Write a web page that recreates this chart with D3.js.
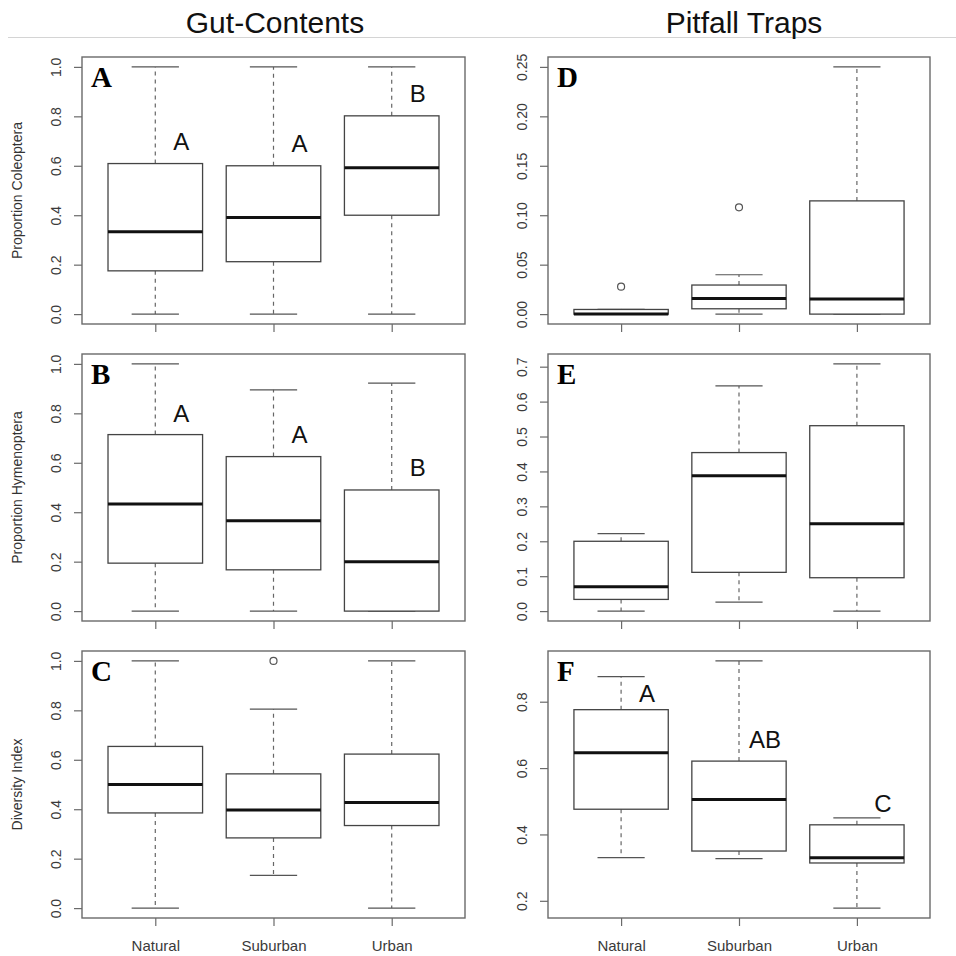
<!DOCTYPE html>
<meta charset='utf-8'>
<style>
  body { margin:0; background:#fff; }
  text { font-family:'Liberation Sans', Arial, sans-serif; }
  .frame { fill:none; stroke:#6a6a6a; stroke-width:1.4px; }
  .axis path { display:none; }
  .axis line { stroke:#6a6a6a; stroke-width:1.2px; }
  .axis text { fill:#3a3a3a; font-size:14px; }
  .box { fill:#fff; stroke:#444; stroke-width:1.3px; }
  .median { stroke:#111; stroke-width:3px; }
  .whisker { stroke:#666; stroke-width:1.2px; stroke-dasharray:4,4; }
  .staple { stroke:#555; stroke-width:1.2px; }
  .outlier { fill:none; stroke:#555; stroke-width:1.2px; }
</style>
<body>
<script src='https://d3js.org/d3.v7.min.js'></script>
<script>
  var width = 956;
  var height = 956;

  var groups = ['Natural','Suburban','Urban'];
  var columnTitles = ['Gut-Contents','Pitfall Traps'];

  // [lower whisker, Q1, median, Q3, upper whisker] per group
  var statsA = [[0,0.175,0.333,0.609,1.0],[0,0.212,0.391,0.600,1.0],[0,0.400,0.592,0.802,1.0]];
  var statsB = [[0,0.194,0.433,0.714,1.0],[0,0.167,0.366,0.625,0.895],[0,0,0.200,0.490,0.922]];
  var statsC = [[0,0.385,0.500,0.654,1.0],[0.1325,0.284,0.397,0.543,0.805],[0,0.334,0.427,0.623,1.0]];
  var statsD = [[0,0,0,0.0047,0.0047],[0,0.0054,0.0159,0.0294,0.0398],[0,0,0.0152,0.1145,0.25]];
  var statsE = [[0,0.0335,0.070,0.200,0.222],[0.026,0.111,0.388,0.454,0.645],[0,0.0956,0.250,0.531,0.708]];
  var statsF = [[0.330,0.476,0.646,0.776,0.8755],[0.327,0.350,0.505,0.621,0.923],[0.178,0.314,0.330,0.429,0.450]];

  var outA = [[],[],[]];
  var outB = [[],[],[]];
  var outC = [[],[1.0],[]];
  var outD = [[0.0277],[0.108],[]];
  var outE = [[],[],[]];
  var outF = [[],[],[]];

  var ticksUnit = [0,0.2,0.4,0.6,0.8,1.0];
  var ticksD = [0,0.05,0.10,0.15,0.20,0.25];
  var ticksE = [0,0.1,0.2,0.3,0.4,0.5,0.6,0.7];
  var ticksF = [0.2,0.4,0.6,0.8];

  // significance letters and the value their baseline sits at
  var lettersA = ['A','A','B'];
  var letterYA = [0.664,0.656,0.858];
  var lettersB = ['A','A','B'];
  var letterYB = [0.766,0.680,0.547];
  var lettersF = ['A','AB','C'];
  var letterYF = [0.798,0.661,0.469];

  var yTitles = ['Proportion Coleoptera','Proportion Hymenoptera','Diversity Index'];

  var colLeft = [82,548], colRight = [465,930];
  var rowTop = [57,354,651], rowBottom = [324,621,918];

  var panels = [
    {id:'A',col:0,row:0,stats:statsA,out:outA,ticks:ticksUnit,fmt:'.1f',title:yTitles[0],letters:lettersA,letterY:letterYA},
    {id:'B',col:0,row:1,stats:statsB,out:outB,ticks:ticksUnit,fmt:'.1f',title:yTitles[1],letters:lettersB,letterY:letterYB},
    {id:'C',col:0,row:2,stats:statsC,out:outC,ticks:ticksUnit,fmt:'.1f',title:yTitles[2],letters:null},
    {id:'D',col:1,row:0,stats:statsD,out:outD,ticks:ticksD,fmt:'.2f',title:null,letters:null},
    {id:'E',col:1,row:1,stats:statsE,out:outE,ticks:ticksE,fmt:'.1f',title:null,letters:null},
    {id:'F',col:1,row:2,stats:statsF,out:outF,ticks:ticksF,fmt:'.1f',title:null,letters:lettersF,letterY:letterYF}
  ];

  var svg = d3.select('body').append('svg')
    .attr('width',width)
    .attr('height',height);

  // column headings -------------------------------------------------------
  svg.append('line')
    .attr('x1',8).attr('x2',956).attr('y1',37.5).attr('y2',37.5)
    .style('stroke','#d4d4d4').style('stroke-width',1);
  svg.selectAll('.coltitle').data(columnTitles).enter().append('text')
    .attr('class','coltitle')
    .attr('x',function(d,i){ return i === 0 ? 275 : 744; })
    .attr('y',33)
    .attr('text-anchor','middle')
    .style('font-size','30px')
    .style('fill','#111')
    .text(function(d){ return d; });

  panels.forEach(drawPanel);

  function drawPanel(p) {
    var L = colLeft[p.col], R = colRight[p.col];
    var T = rowTop[p.row], B = rowBottom[p.row];
    var x = d3.scaleLinear().domain([0.38,3.62]).range([L,R]);
    var all = d3.merge(p.stats).concat(d3.merge(p.out));
    var lo = d3.min(all), hi = d3.max(all), pad = (hi - lo) * 0.04;
    var y = d3.scaleLinear().domain([lo - pad, hi + pad]).range([B,T]);
    var g = svg.append('g');

    // axes
    var ya = g.append('g').attr('class','axis')
      .attr('transform','translate(' + L + ',0)')
      .call(d3.axisLeft(y).tickValues(p.ticks).tickFormat(d3.format(p.fmt)).tickSize(8));
    ya.selectAll('text')
      .attr('x',0).attr('dy',null)
      .attr('text-anchor','middle')
      .attr('transform','translate(-21,0) rotate(-90)');

    var xa = g.append('g').attr('class','axis')
      .attr('transform','translate(0,' + B + ')')
      .call(d3.axisBottom(x).tickValues([1,2,3]).tickSize(8)
        .tickFormat(function(d){ return p.row === 2 ? groups[d - 1] : ''; }));
    xa.selectAll('text').attr('y',33).attr('dy',null).style('font-size','15px');

    if (p.title) {
      g.append('text')
        .attr('transform','translate(22,' + ((T + B) / 2) + ') rotate(-90)')
        .attr('text-anchor','middle')
        .style('font-size','14px')
        .style('fill','#333')
        .text(p.title);
    }

    // boxes
    var bw = 0.4, sw = 0.2;
    var box = g.selectAll('.grp').data(p.stats).enter().append('g');
    box.append('line').attr('class','whisker')
      .attr('x1',function(d,i){ return x(i + 1); }).attr('x2',function(d,i){ return x(i + 1); })
      .attr('y1',function(d){ return y(d[3]); }).attr('y2',function(d){ return y(d[4]); });
    box.append('line').attr('class','whisker')
      .attr('x1',function(d,i){ return x(i + 1); }).attr('x2',function(d,i){ return x(i + 1); })
      .attr('y1',function(d){ return y(d[1]); }).attr('y2',function(d){ return y(d[0]); });
    box.append('line').attr('class','staple')
      .attr('x1',function(d,i){ return x(i + 1 - sw); }).attr('x2',function(d,i){ return x(i + 1 + sw); })
      .attr('y1',function(d){ return y(d[4]); }).attr('y2',function(d){ return y(d[4]); });
    box.append('line').attr('class','staple')
      .attr('x1',function(d,i){ return x(i + 1 - sw); }).attr('x2',function(d,i){ return x(i + 1 + sw); })
      .attr('y1',function(d){ return y(d[0]); }).attr('y2',function(d){ return y(d[0]); });
    box.append('rect').attr('class','box')
      .attr('x',function(d,i){ return x(i + 1 - bw); })
      .attr('width',function(d,i){ return x(i + 1 + bw) - x(i + 1 - bw); })
      .attr('y',function(d){ return y(d[3]); })
      .attr('height',function(d){ return y(d[1]) - y(d[3]); });
    box.append('line').attr('class','median')
      .attr('x1',function(d,i){ return x(i + 1 - bw); }).attr('x2',function(d,i){ return x(i + 1 + bw); })
      .attr('y1',function(d){ return y(d[2]); }).attr('y2',function(d){ return y(d[2]); });

    p.out.forEach(function(vals,i){
      g.selectAll(null).data(vals).enter().append('circle')
        .attr('class','outlier')
        .attr('cx',x(i + 1)).attr('cy',function(d){ return y(d); })
        .attr('r',3.5);
    });

    g.append('rect').attr('class','frame')
      .attr('x',L).attr('y',T).attr('width',R - L).attr('height',B - T);

    // panel letter
    g.append('text')
      .attr('x',L + 9).attr('y',T + 30)
      .style('font-family',"'Liberation Serif', 'Times New Roman', serif")
      .style('font-weight','bold')
      .style('font-size','29px')
      .style('fill','#000')
      .text(p.id);

    if (p.letters) {
      g.selectAll('.sig').data(p.letters).enter().append('text')
        .attr('x',function(d,i){ return x(i + 1.22); })
        .attr('y',function(d,i){ return y(p.letterY[i]); })
        .attr('text-anchor','middle')
        .style('font-size','24px')
        .style('fill','#111')
        .text(function(d){ return d; });
    }
  }
</script>
</body>
